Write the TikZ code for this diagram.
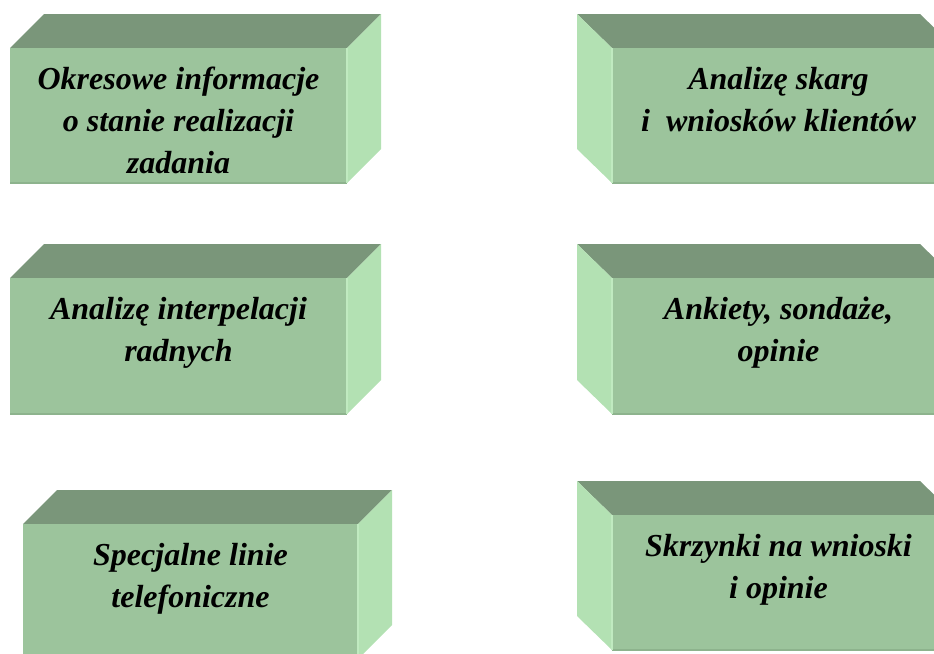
\documentclass[tikz,border=0pt]{standalone}
\usepackage{fontspec}
\setmainfont{Liberation Serif}
\usepackage{xcolor}
\usepackage{tikz}
\usetikzlibrary{calc}
\definecolor{boxtop}{HTML}{7A967A}
\definecolor{boxfront}{HTML}{9CC49C}
\definecolor{boxside}{HTML}{B3E1B3}
\definecolor{boxedge}{HTML}{8DB38D}
\definecolor{boxrim}{HTML}{C0EAC0}
\tikzset{
  topface/.style={fill=boxtop},
  frontface/.style={fill=boxfront},
  sideface/.style={fill=boxside},
  frontedge/.style={draw=boxedge, line width=1.5},
  sideedge/.style={draw=boxrim, line width=1.2},
  cratetext/.style={anchor=north, inner sep=0pt, align=center,
    font=\fontsize{24}{31.5}\selectfont\bfseries\itshape}
}
% crate with its side face on the right: x, y (front top-left), width, height, name, text
\newcommand{\crateR}[6]{%
  \begin{scope}[shift={(#1,#2)}]
    \fill[topface] (0,0) -- (34,-34) -- (#3+34,-34) -- (#3,0) -- cycle;
    \fill[sideface] (#3,0) -- (#3+34,-34) -- (#3+34,#4-34) -- (#3,#4) -- cycle;
    \fill[frontface] (0,0) rectangle (#3,#4);
    \draw[frontedge] (0,#4) -- (#3,#4);
    \draw[sideedge] (#3,0) -- (#3,#4);
    \node[cratetext] (#5) at (#3/2,19) {#6};
  \end{scope}
}
% crate with its side face on the left
\newcommand{\crateL}[6]{%
  \begin{scope}[shift={(#1,#2)}]
    \fill[topface] (0,0) -- (-35,-34) -- (#3-35,-34) -- (#3,0) -- cycle;
    \fill[sideface] (0,0) -- (-35,-34) -- (-35,#4-34) -- (0,#4) -- cycle;
    \fill[frontface] (0,0) rectangle (#3,#4);
    \draw[frontedge] (0,#4) -- (#3,#4);
    \draw[sideedge] (0,0) -- (0,#4);
    \node[cratetext] (#5) at (#3/2-5,19) {#6};
  \end{scope}
}

\begin{document}
\begin{tikzpicture}[x=0.75pt, y=-0.75pt]
        \useasboundingbox (0,0) rectangle (934,653);
        \clip (0,0) rectangle (934,653);

        % Left column
        \crateR{10}{48}{337}{135}{okresowe}{Okresowe informacje\\o stanie realizacji\\zadania}
        \crateR{10}{278}{337}{136}{interpelacje}{Analizę interpelacji\\radnych}
        \crateR{23}{524}{335}{135}{telefony}{Specjalne linie\\telefoniczne}

        % Right column
        \crateL{612}{48}{343}{135}{skargi}{Analizę skarg\\i\ \ wniosków klientów}
        \crateL{612}{278}{343}{136}{ankiety}{Ankiety, sondaże,\\opinie}
        \crateL{612}{515}{343}{135}{skrzynki}{Skrzynki na wnioski\\i opinie}
    \end{tikzpicture}
\end{document}
